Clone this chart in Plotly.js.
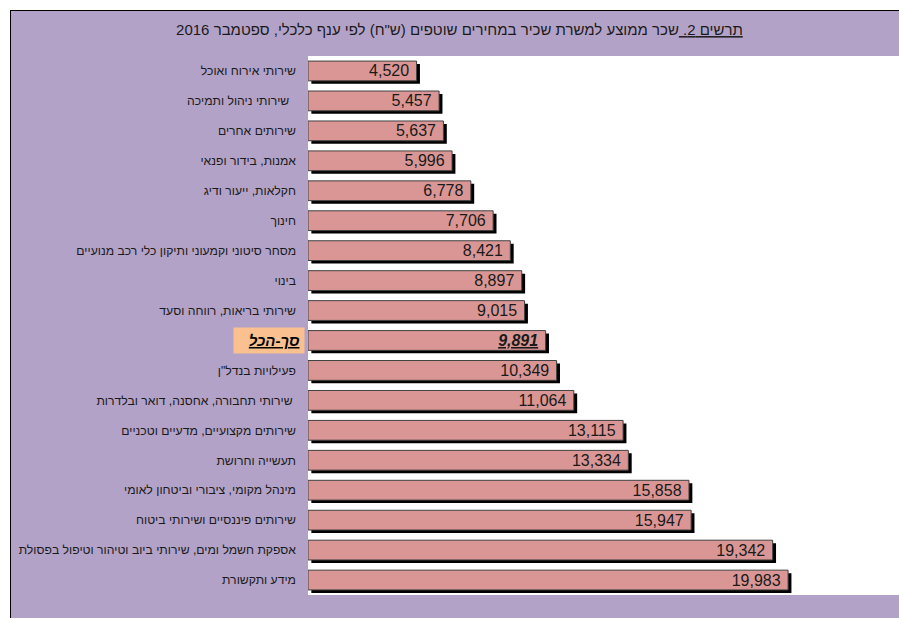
<!DOCTYPE html>
<html>
<head>
<meta charset="utf-8">
<script src="https://cdn.plot.ly/plotly-3.0.1.min.js"></script>
<style>
  html, body { margin: 0; padding: 0; background: #ffffff; width: 899px; height: 618px; overflow: hidden; }
  #chart { position: absolute; left: 10px; top: 10px; width: 888px; height: 607px;
           border-left: 1px solid #000; border-top: 1px solid #000; }
</style>
</head>
<body>
<div id="chart"></div>
<script>
// ---- data (top to bottom) ----
var categories = [
  'שירותי אירוח ואוכל',
  'שירותי ניהול ותמיכה\u00a0\u00a0',
  'שירותים אחרים',
  'אמנות, בידור ופנאי',
  'חקלאות, ייעור ודיג',
  'חינוך',
  'מסחר סיטוני וקמעוני ותיקון כלי רכב מנועיים',
  'בינוי',
  'שירותי בריאות, רווחה וסעד',
  'סך-הכל',
  'פעילויות בנדל"ן',
  'שירותי תחבורה, אחסנה, דואר ובלדרות\u00a0',
  'שירותים מקצועיים, מדעיים וטכניים',
  'תעשייה וחרושת',
  'מינהל מקומי, ציבורי וביטחון לאומי',
  'שירותים פיננסיים ושירותי ביטוח',
  'אספקת חשמל ומים, שירותי ביוב וטיהור וטיפול בפסולת',
  'מידע ותקשורת'
];
var wages = [4520, 5457, 5637, 5996, 6778, 7706, 8421, 8897, 9015, 9891,
             10349, 11064, 13115, 13334, 15858, 15947, 19342, 19983];
var totalLabel = 'סך-הכל';
var titleMain = 'שכר ממוצע למשרת שכיר במחירים שוטפים (ש"ח) לפי ענף כלכלי, ספטמבר 2016';
var titlePrefix = 'תרשים 2.';

// ---- styles ----
var PURPLE = '#B3A2C7', BAR = '#D99694', ORANGE = '#FAC090';
var FONT = 'Arial, "Liberation Sans", sans-serif';
var BAR_W = 0.66;
var SHADOW_DX = 140;   // x-units (≈3.4px)
var SHADOW_DY = 0.1;   // category units (≈3px)

function fmt(v) { return v.toLocaleString('en-US'); }

var texts = wages.map(function (v, i) {
  var s = fmt(v);
  if (categories[i] === totalLabel) s = '<b><i><u>' + s + '</u></i></b>';
  return s + '\u00a0';
});

var shadow = {
  type: 'bar', orientation: 'h',
  y: categories, x: wages, base: SHADOW_DX,
  width: BAR_W, offset: -BAR_W / 2 + SHADOW_DY,
  marker: { color: '#000000', line: { width: 0 } },
  hoverinfo: 'skip', showlegend: false
};

var bars = {
  type: 'bar', orientation: 'h',
  y: categories, x: wages,
  width: BAR_W,
  marker: { color: BAR, line: { color: '#404040', width: 1 } },
  text: texts, textposition: 'inside', insidetextanchor: 'end',
  insidetextfont: { family: FONT, size: 16, color: '#1a1a1a' },
  textangle: 0, constraintext: 'none',
  hoverinfo: 'skip', showlegend: false
};

var ticktext = categories.map(function (c) { return c === totalLabel ? '' : c; });

var layout = {
  width: 888, height: 607,
  margin: { l: 297, r: 0, t: 45, b: 23, pad: 0 },
  paper_bgcolor: PURPLE, plot_bgcolor: '#ffffff',
  barmode: 'overlay',
  showlegend: false,
  font: { family: FONT, color: '#1a1a1a' },
  title: {
    text: '<u>' + titlePrefix + '\u00a0</u>' + titleMain,
    font: { family: FONT, size: 15, color: '#1a1a1a' },
    x: 0.505, xanchor: 'center', y: 0.969, yanchor: 'middle'
  },
  xaxis: { range: [0, 24600], visible: false, fixedrange: true },
  yaxis: {
    type: 'category', autorange: 'reversed',
    categoryorder: 'array', categoryarray: categories,
    tickmode: 'array', tickvals: categories, ticktext: ticktext,
    ticks: '', showline: false, showgrid: false, zeroline: false,
    ticklabelstandoff: 11,
    tickfont: { family: FONT, size: 12.2, color: '#1a1a1a' },
    fixedrange: true
  },
  annotations: [{
    xref: 'paper', yref: 'y', x: 0, y: totalLabel,
    xanchor: 'right', yanchor: 'middle', xshift: -3,
    text: '<b><i><u>' + totalLabel + '</u></i></b>',
    font: { family: FONT, size: 15, color: '#000000' },
    bgcolor: ORANGE, width: 62, height: 17, borderpad: 4, align: 'right',
    showarrow: false
  }]
};

Plotly.newPlot('chart', [shadow, bars], layout, { displayModeBar: false, staticPlot: true });
</script>
</body>
</html>
